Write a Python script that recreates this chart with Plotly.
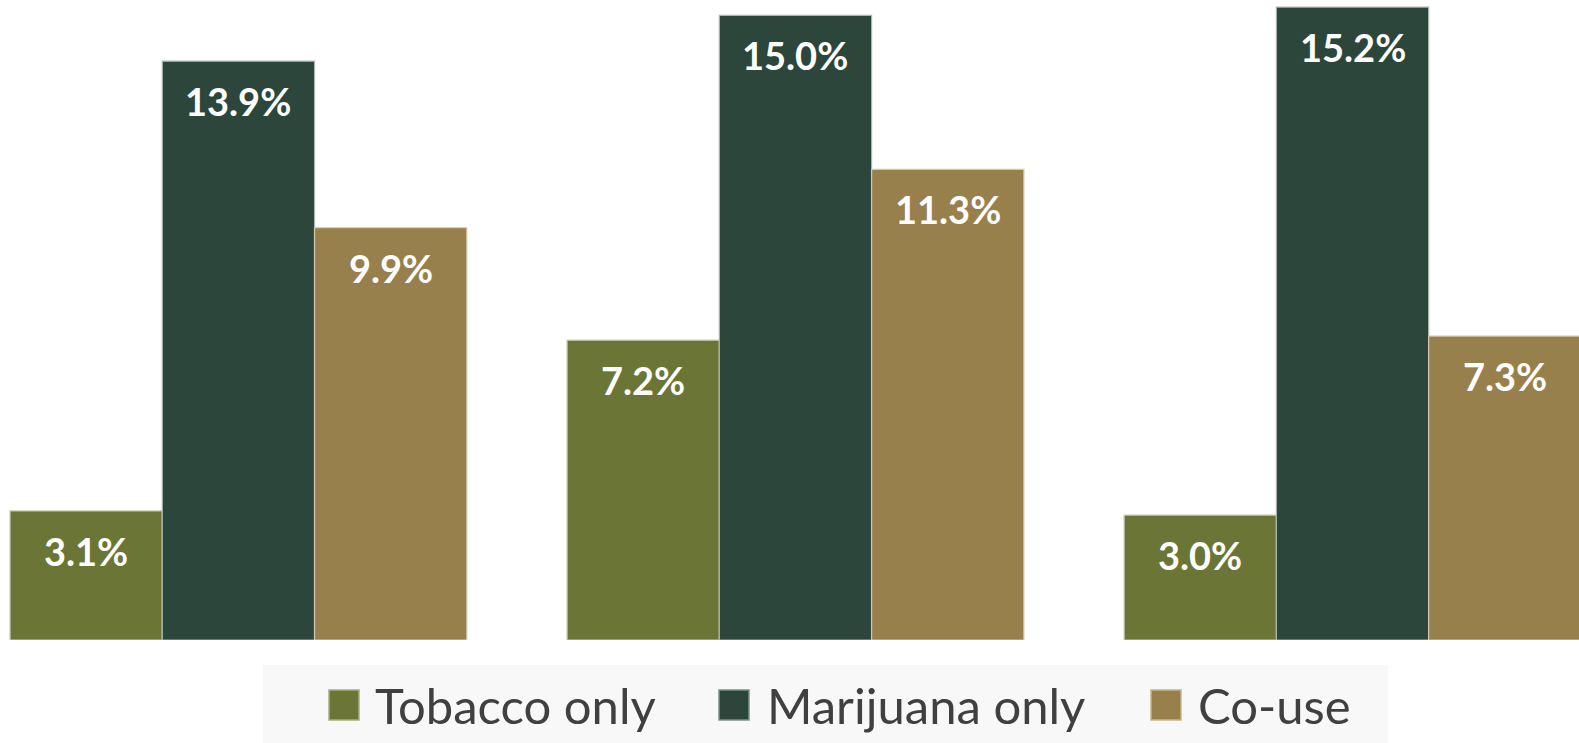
import plotly.graph_objects as go

# Prevalence of use by group (percent)
groups = ["Group 1", "Group 2", "Group 3"]
series_names = ["Tobacco only", "Marijuana only", "Co-use"]
tobacco_only = [3.1, 7.2, 3.0]
marijuana_only = [13.9, 15.0, 15.2]
co_use = [9.9, 11.3, 7.3]

series_values = [tobacco_only, marijuana_only, co_use]
colors = ["#6B7536", "#2C463B", "#98804C"]
edge_colors = ["#C9CBB0", "#A9B5AE", "#D3C8AE"]
key_edges = ["#A7AD7E", "#7E918A", "#C4B48E"]

W, H = 1579, 743
BARGAP = 0.18
FONT = "Lato"
plot_bottom = 640

fig = go.Figure()

for name, vals, col, edge in zip(series_names, series_values, colors, edge_colors):
    fig.add_trace(go.Bar(
        x=groups, y=vals, name=name,
        marker=dict(color=col, line=dict(color=edge, width=1.2)),
        showlegend=False,
        hoverinfo="skip",
    ))

# Value labels placed just inside the top of each bar
n_series = len(series_values)
bar_w = (1 - BARGAP) / n_series
annotations = []
for i, vals in enumerate(series_values):
    for j, v in enumerate(vals):
        annotations.append(dict(
            x=j + (i - (n_series - 1) / 2) * bar_w, y=v,
            xref="x", yref="y",
            text=f"<b>{v:.1f}%</b>",
            showarrow=False, yanchor="top", yshift=-15,
            font=dict(family=FONT, size=38, color="white"),
        ))


def px_x(px):
    return px / W


def px_y(px):
    return (plot_bottom - px) / plot_bottom


# Legend key: swatch + label per series, on a light panel
shapes = [dict(
    type="rect", xref="paper", yref="paper", layer="below",
    x0=px_x(263), x1=px_x(1388), y0=px_y(665), y1=px_y(743),
    fillcolor="#F8F8F8", line=dict(width=0),
)]
swatch_left = [329, 719, 1151]
label_left = [373, 765, 1196]
SW = 30
key_mid = 705
for name, col, edge, sx, lx in zip(series_names, colors, key_edges, swatch_left, label_left):
    shapes.append(dict(
        type="rect", xref="paper", yref="paper",
        x0=px_x(sx), x1=px_x(sx + SW), y0=px_y(key_mid - SW / 2), y1=px_y(key_mid + SW / 2),
        fillcolor=col, line=dict(color=edge, width=1.5),
    ))
    annotations.append(dict(
        x=px_x(lx), y=px_y(key_mid), xref="paper", yref="paper",
        xanchor="left", yanchor="middle", showarrow=False,
        text=name, font=dict(family=FONT, size=49, color="#404040"),
    ))

fig.update_layout(
    width=W, height=H,
    margin=dict(l=0, r=0, t=0, b=H - plot_bottom),
    paper_bgcolor="white", plot_bgcolor="white",
    barmode="group", bargap=BARGAP, bargroupgap=0,
    showlegend=False,
    xaxis=dict(range=[-0.428, 2.4066], showticklabels=False, showgrid=False,
               zeroline=False, showline=False, ticks=""),
    yaxis=dict(range=[0, 15.37], visible=False),
    annotations=annotations,
    shapes=shapes,
)

fig.write_html("out.html")
